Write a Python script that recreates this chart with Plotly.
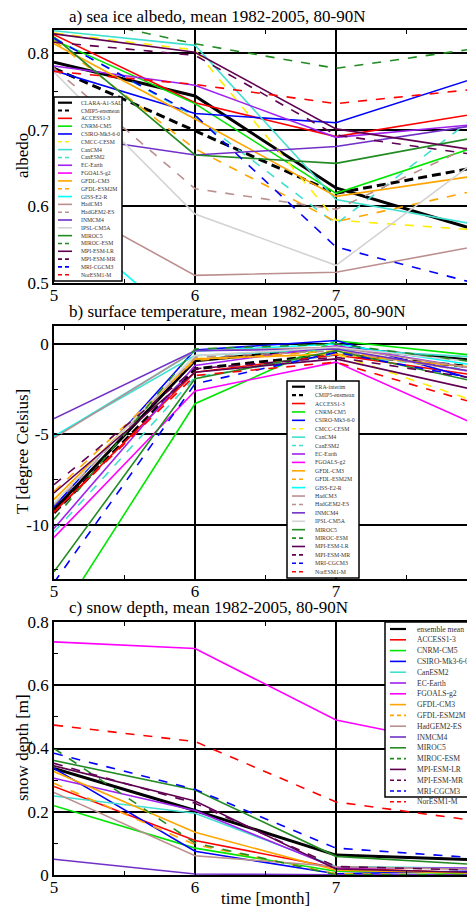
import plotly.graph_objects as go
from plotly.subplots import make_subplots

months = [5, 6, 7, 8]

# ---------------- data: panel a (sea ice albedo) ----------------
albedo_names = ["CLARA-A1-SAL", "CMIP5-ensmean", "ACCESS1-3", "CNRM-CM5", "CSIRO-Mk3-6-0",
                "CMCC-CESM", "CanCM4", "CanESM2", "EC-Earth", "FGOALS-g2", "GFDL-CM3",
                "GFDL-ESM2M", "GISS-E2-R", "HadCM3", "HadGEM2-ES", "INMCM4", "IPSL-CM5A",
                "MIROC5", "MIROC-ESM", "MPI-ESM-LR", "MPI-ESM-MR", "MRI-CGCM3", "NorESM1-M"]
albedo_values = [
    [0.788, 0.744, 0.624, 0.569],
    [0.780, 0.698, 0.617, 0.651],
    [0.824, 0.735, 0.691, 0.721],
    [0.817, 0.734, 0.617, 0.678],
    [0.777, 0.721, 0.709, 0.768],
    [0.826, 0.804, 0.582, 0.569],
    [0.829, 0.810, 0.609, 0.576],
    [0.820, 0.717, 0.577, 0.719],
    [0.783, 0.758, 0.690, 0.707],
    [None, None, None, None],
    [0.812, 0.714, 0.613, 0.640],
    [0.816, 0.675, 0.580, 0.621],
    [0.591, 0.434, 0.440, 0.450],
    [0.611, 0.510, 0.514, 0.548],
    [0.780, 0.623, 0.596, 0.682],
    [0.694, 0.667, 0.678, 0.706],
    [0.775, 0.590, 0.523, 0.660],
    [0.821, 0.667, 0.656, 0.690],
    [0.852, 0.812, 0.780, 0.806],
    [0.825, 0.801, 0.701, 0.673],
    [0.814, 0.797, 0.693, 0.667],
    [0.819, 0.719, 0.547, 0.499],
    [0.776, 0.759, 0.734, 0.753],
]

# ---------------- data: panel b (surface temperature) ----------------
temp_names = ["ERA-interim", "CMIP5-ensmean", "ACCESS1-3", "CNRM-CM5", "CSIRO-Mk3-6-0",
              "CMCC-CESM", "CanCM4", "CanESM2", "EC-Earth", "FGOALS-g2", "GFDL-CM3",
              "GFDL-ESM2M", "GISS-E2-R", "HadCM3", "HadGEM2-ES", "INMCM4", "IPSL-CM5A",
              "MIROC5", "MIROC-ESM", "MPI-ESM-LR", "MPI-ESM-MR", "MRI-CGCM3", "NorESM1-M"]
temp_values = [
    [-9.16, -0.92, -0.18, -0.92],
    [-9.34, -1.37, -0.55, -1.28],
    [-9.30, -1.56, -0.60, -1.74],
    [-15.5, -3.30, 0.18, -0.64],
    [-9.00, -0.33, 0.20, -2.00],
    [-8.60, -0.82, -0.55, -3.20],
    [-5.10, -0.64, -0.27, -0.73],
    [-10.4, -1.83, -0.55, -1.47],
    [-10.2, -1.19, -0.10, -1.37],
    [-10.7, -2.60, -1.00, -4.49],
    [-8.60, -0.82, -0.55, -1.30],
    [-8.15, -0.90, -0.37, -1.56],
    [-5.13, -0.40, 0.00, -1.19],
    [-5.20, -0.37, -0.18, -1.37],
    [-8.90, -0.73, -0.37, -1.56],
    [-4.12, -0.37, -0.27, -1.56],
    [-8.80, -0.64, -0.18, -1.00],
    [-12.6, -1.92, -0.37, -2.10],
    [-9.70, -0.27, 0.00, -1.00],
    [-8.24, -1.56, -0.82, -2.56],
    [-7.78, -1.37, -0.73, -1.92],
    [-13.2, -2.20, -0.46, -1.92],
    [-9.30, -1.74, -1.00, -3.30],
]

# ---------------- data: panel c (snow depth) ----------------
snow_names = ["ensemble mean", "ACCESS1-3", "CNRM-CM5", "CSIRO-Mk3-6-0", "CanESM2", "EC-Earth",
              "FGOALS-g2", "GFDL-CM3", "GFDL-ESM2M", "HadGEM2-ES", "INMCM4", "MIROC5",
              "MIROC-ESM", "MPI-ESM-LR", "MPI-ESM-MR", "MRI-CGCM3", "NorESM1-M"]
snow_values = [
    [0.337, 0.204, 0.063, 0.048],
    [0.280, 0.109, 0.022, 0.006],
    [0.219, 0.085, 0.012, 0.004],
    [0.337, 0.075, 0.004, 0.012],
    [0.250, 0.195, 0.027, 0.022],
    [0.306, 0.204, 0.022, 0.022],
    [0.737, 0.716, 0.490, 0.400],
    [0.327, 0.135, 0.015, 0.006],
    [0.290, 0.096, 0.004, 0.000],
    [0.261, 0.061, 0.027, 0.017],
    [0.050, 0.003, 0.001, 0.001],
    [0.362, 0.269, 0.059, 0.033],
    [0.400, 0.101, 0.001, 0.000],
    [0.345, 0.234, 0.019, 0.008],
    [0.353, 0.227, 0.027, 0.015],
    [0.385, 0.271, 0.085, 0.054],
    [0.474, 0.422, 0.231, 0.171],
]

# ---------------- styles ----------------
STYLE = {
    "CLARA-A1-SAL": ("#000000", "solid", 3),
    "ERA-interim": ("#000000", "solid", 3),
    "ensemble mean": ("#000000", "solid", 3),
    "CMIP5-ensmean": ("#000000", "dash", 3),
    "ACCESS1-3": ("#ff0000", "solid", 1.6),
    "CNRM-CM5": ("#00e600", "solid", 1.6),
    "CSIRO-Mk3-6-0": ("#0000ff", "solid", 1.6),
    "CMCC-CESM": ("#ffee00", "dash", 1.6),
    "CanCM4": ("#40e0d0", "solid", 1.6),
    "CanESM2": ("#40e0d0", "dash", 1.6),
    "EC-Earth": ("#a020f0", "solid", 1.6),
    "FGOALS-g2": ("#ff00ff", "solid", 1.6),
    "GFDL-CM3": ("#ffa500", "solid", 1.6),
    "GFDL-ESM2M": ("#ffa500", "dash", 1.6),
    "GISS-E2-R": ("#00ffff", "solid", 1.6),
    "HadCM3": ("#bc8f8f", "solid", 1.6),
    "HadGEM2-ES": ("#bc8f8f", "dash", 1.6),
    "INMCM4": ("#7030c8", "solid", 1.6),
    "IPSL-CM5A": ("#d3d3d3", "solid", 1.6),
    "MIROC5": ("#228b22", "solid", 1.6),
    "MIROC-ESM": ("#228b22", "dash", 1.6),
    "MPI-ESM-LR": ("#600050", "solid", 1.6),
    "MPI-ESM-MR": ("#600050", "dash", 1.6),
    "MRI-CGCM3": ("#0000ff", "dash", 1.6),
    "NorESM1-M": ("#ff0000", "dash", 1.6),
}
# snow panel: HadGEM2-ES and CanESM2 drawn solid
SNOW_OVERRIDE = {"HadGEM2-ES": ("#bc8f8f", "solid", 1.6), "CanESM2": ("#40e0d0", "solid", 1.6)}

# page offset of the figure (default body margin)
OFF = 8
W, H = 467, 899
ML, MR, MT, MB = 46, 0, 22, 32
PW, PH = W - ML - MR, H - MT - MB
FONT = "Liberation Serif"


def px(x):
    """page pixel x -> paper x"""
    return (x - OFF - ML) / PW


def py(y):
    """page pixel y -> paper y"""
    return (H - MB - (y - OFF)) / PH


fig = make_subplots(rows=3, cols=1)

panels = [
    (albedo_names, albedo_values, 1, {}),
    (temp_names, temp_values, 2, {}),
    (snow_names, snow_values, 3, SNOW_OVERRIDE),
]
for names, values, row, override in panels:
    for name, vals in zip(names, values):
        color, dash, width = override.get(name, STYLE[name])
        dash_pat = "9px,5px" if (dash == "dash" and width > 2) else dash
        fig.add_trace(go.Scatter(x=months, y=vals, mode="lines", name=name,
                                 line=dict(color=color, dash=dash_pat, width=width),
                                 showlegend=False, connectgaps=False), row=row, col=1)

xr = [5, 5 + PW / 141.0]
doms = [[py(283), py(30)], [py(579), py(326)], [py(875), py(622)]]
yranges = [[0.5, 0.83], [-13, 1], [0, 0.8]]
ytickvals = [[0.5, 0.6, 0.7, 0.8], [-10, -5, 0], [0, 0.2, 0.4, 0.6, 0.8]]
yticktext = [["0.5", "0.6", "0.7", "0.8"], ["-10", "-5", "0"], ["0", "0.2", "0.4", "0.6", "0.8"]]
yminor = [0.05, 2.5, 0.1]

for i in range(3):
    k = "" if i == 0 else str(i + 1)
    fig.layout["xaxis" + k].update(
        range=xr, tickvals=[5, 6, 7, 8], ticktext=["5", "6", "7", "8"],
        showgrid=True, gridcolor="black", gridwidth=1.5, zeroline=False,
        showline=True, linecolor="black", linewidth=1.5, mirror="ticks",
        ticks="inside", ticklen=7, tickwidth=1.2, tickcolor="black",
        ticklabelstandoff=-4,
        minor=dict(dtick=0.5, tick0=5, ticks="inside", ticklen=4, tickcolor="black", showgrid=False),
        tickfont=dict(family=FONT, size=17, color="black"), domain=[0, 1])
    fig.layout["yaxis" + k].update(
        range=yranges[i], domain=[max(0, doms[i][0]), min(1, doms[i][1])],
        tickvals=ytickvals[i], ticktext=yticktext[i],
        showgrid=True, gridcolor="black", gridwidth=1.5, zeroline=False,
        showline=True, linecolor="black", linewidth=1.5, mirror=False,
        ticks="inside", ticklen=7, tickwidth=1.2, tickcolor="black",
        minor=dict(dtick=yminor[i], ticks="inside", ticklen=4, tickcolor="black", showgrid=False),
        tickfont=dict(family=FONT, size=17, color="black"))

annotations = []
shapes = []

# panel titles
for text, ypix in [("a) sea ice albedo, mean 1982-2005, 80-90N", 16),
                   ("b) surface temperature, mean 1982-2005, 80-90N", 311),
                   ("c) snow depth, mean 1982-2005, 80-90N", 607)]:
    annotations.append(dict(text=text, xref="paper", yref="paper", x=px(67), y=py(ypix),
                            xanchor="left", yanchor="middle", showarrow=False,
                            font=dict(family=FONT, size=17, color="black")))

# axis titles
for text, ypix in [("albedo", 156), ("T [degree Celsius]", 452), ("snow depth [m]", 748)]:
    annotations.append(dict(text=text, xref="paper", yref="paper", x=px(22), y=py(ypix),
                            xanchor="center", yanchor="middle", textangle=-90, showarrow=False,
                            font=dict(family=FONT, size=17, color="black")))
annotations.append(dict(text="time [month]", xref="paper", yref="paper", x=px(265), y=py(898),
                        xanchor="center", yanchor="middle", showarrow=False,
                        font=dict(family=FONT, size=17, color="black")))


def add_legend(names, override, box, first_y, step, line_x, text_x, fsize):
    x0, x1, y0, y1 = box
    shapes.append(dict(type="rect", xref="paper", yref="paper", x0=px(x0), x1=px(x1),
                       y0=py(y1), y1=py(y0), line=dict(color="black", width=1.5),
                       fillcolor="white", layer="above"))
    for j, name in enumerate(names):
        color, dash, width = override.get(name, STYLE[name])
        yy = first_y + j * step
        shapes.append(dict(type="line", xref="paper", yref="paper", x0=px(line_x[0]), x1=px(line_x[1]),
                           y0=py(yy), y1=py(yy),
                           line=dict(color=color, dash="4px,3px" if dash == "dash" else "solid",
                                     width=2.2 if width > 2 else 1.6), layer="above"))
        annotations.append(dict(text=name, xref="paper", yref="paper", x=px(text_x), y=py(yy),
                                xanchor="left", yanchor="middle", showarrow=False,
                                font=dict(family=FONT, size=fsize, color="#333333")))


add_legend(albedo_names, {}, (54, 122, 97, 281), 102.7, 7.82, (58, 72), 79, 5.7)
add_legend(temp_names, {}, (287, 359, 381, 578), 386.7, 8.41, (292, 305), 313, 5.8)
add_legend(snow_names, SNOW_OVERRIDE, (385, 480, 622, 797), 629, 10.8, (390, 406), 415, 7.6)

fig.update_layout(width=W, height=H, margin=dict(l=ML, r=MR, t=MT, b=MB),
                  paper_bgcolor="white", plot_bgcolor="white", showlegend=False,
                  annotations=annotations, shapes=shapes,
                  font=dict(family=FONT, color="black"))

fig.write_html("out.html")
